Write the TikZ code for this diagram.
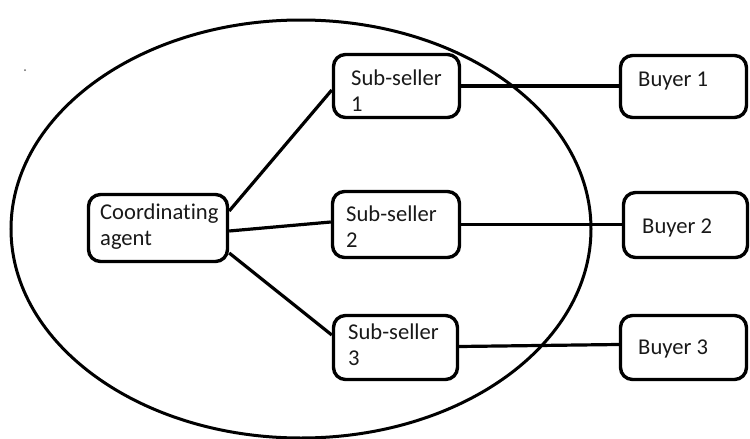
\documentclass[tikz,border=0pt]{standalone}
\usepackage{fontspec}
\setmainfont{Carlito}[Ligatures=NoCommon]
\begin{document}
\begin{tikzpicture}[x=1pt,y=-1pt,
  box/.style={draw,line width=3.4pt,rounded corners=12pt,inner sep=0pt},
  lbl/.style={anchor=base west,inner sep=0pt,align=left,
    font=\fontsize{22.6}{26}\selectfont,text=black!90},
  link/.style={line width=3.2pt}]
\useasboundingbox (0,0) rectangle (750,439);
% the seller group
\draw[line width=3pt] (301,229) ellipse [x radius=290, y radius=209];
\fill[black!60] (25,70) circle (1pt);
% boxes
\node[box,minimum width=139pt,minimum height=67pt] (ca) at (158,228) {};
\node[box,minimum width=126pt,minimum height=63pt] (s1) at (396.5,86) {};
\node[box,minimum width=127pt,minimum height=66pt] (s2) at (396,224.5) {};
\node[box,minimum width=124pt,minimum height=64pt] (s3) at (395.5,347.5) {};
\node[box,minimum width=126pt,minimum height=62pt] (b1) at (683.5,86.5) {};
\node[box,minimum width=124pt,minimum height=65pt] (b2) at (685.5,225) {};
\node[box,minimum width=126pt,minimum height=64pt] (b3) at (683.5,347.5) {};
% labels (anchored on the baseline of their last line)
\node[lbl] (tca) at (100,245) {Coordinating\\agent};
\node[lbl] (ts1) at (351,111) {Sub-seller\\1};
\node[lbl] (ts2) at (346,247) {Sub-seller\\2};
\node[lbl] (ts3) at (348,365) {Sub-seller\\3};
\node[lbl] (tb1) at (638,86) {Buyer 1};
\node[lbl] (tb2) at (642,233) {Buyer 2};
\node[lbl] (tb3) at (638,354) {Buyer 3};
% links
\draw[link] ([yshift=17pt]ca.east) -- ([yshift=-4pt]s1.west);
\draw[link] ([yshift=-3pt]ca.east) -- ([yshift=2.5pt]s2.west);
\draw[link] ([yshift=-25pt]ca.east) -- ([yshift=12.5pt]s3.west);
\draw[link] (s1.east) -- (s1.east -| b1.west);
\draw[link] (s2.east) -- (s2.east -| b2.west);
\draw[link] ([yshift=1pt]s3.east) -- ([yshift=3pt]b3.west);
\end{tikzpicture}
\end{document}
